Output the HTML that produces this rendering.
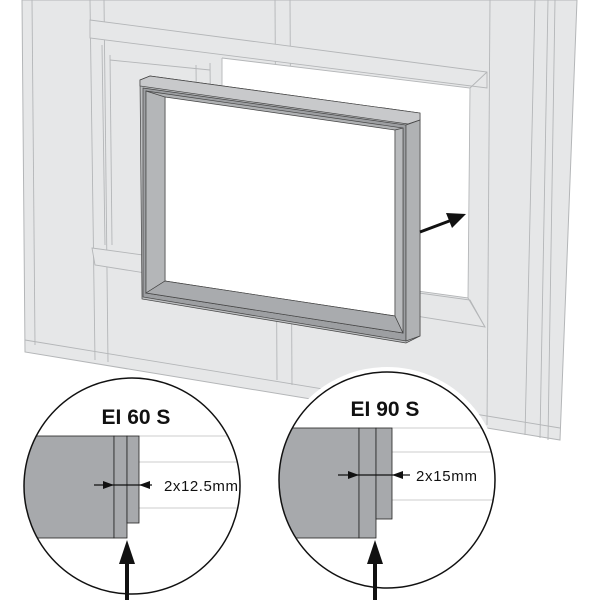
<!DOCTYPE html>
<html><head><style>html,body{margin:0;padding:0;background:#fff}svg{display:block}</style></head>
<body>
<svg width="600" height="600" viewBox="0 0 600 600" xmlns="http://www.w3.org/2000/svg">
<!-- wall -->
<polygon points="22,0 577,0 560,440 25,352" fill="#e6e7e8" stroke="#b4b6b8" stroke-width="1"/>
<g stroke="#b4b6b8" stroke-width="0.9" fill="none">
<line x1="32" y1="0" x2="35" y2="345"/>
<line x1="90" y1="0" x2="95" y2="360"/>
<line x1="104" y1="0" x2="108" y2="362"/>
<line x1="275" y1="0" x2="277" y2="380"/>
<line x1="290" y1="0" x2="292" y2="385"/>
<line x1="490" y1="0" x2="487" y2="425"/>
<line x1="535" y1="0" x2="525" y2="435"/>
<line x1="548" y1="0" x2="540" y2="438"/>
<line x1="555" y1="0" x2="548" y2="440"/>
<line x1="25" y1="340" x2="560" y2="428"/>
<polygon points="90,20 487,72 487,88 90,38" fill="#e6e7e8"/>
<polygon points="92,248 470,300 485,327 95,265" fill="#e6e7e8"/>
<line x1="102" y1="45" x2="105" y2="245"/>
<line x1="110" y1="55" x2="112" y2="245"/>
<line x1="110" y1="60" x2="210" y2="70"/>
<line x1="196" y1="65" x2="198" y2="258"/>
<line x1="210" y1="63" x2="212" y2="260"/>
</g>
<!-- opening -->
<polygon points="222,58 470,88 468,298 222,264" fill="#fff"/>
<g stroke="#b4b6b8" stroke-width="0.9" fill="none">
<polyline points="222,58 470,88 468,298 222,264"/>
<line x1="470" y1="88" x2="487" y2="72"/>
<line x1="468" y1="298" x2="485" y2="327"/>
<line x1="222" y1="58" x2="222" y2="264"/>
</g>
<!-- frame -->
<g stroke="#444" stroke-width="0.7">
<polygon points="140,80 150,76 420,113 420,336 406,343 142,299" fill="#bcbec0"/>
<polygon points="140,80 150,76 420,113 420,120 408,124 140,86" fill="#c8c9cb"/>
<polygon points="143,88 406,125 406,341 143,297" fill="#9d9fa2"/>
<polygon points="146,91 403,128 403,333 146,293" fill="#b0b2b4"/>
<polygon points="165,97 395,130 395,316 165,281" fill="#fff"/>
<polygon points="146,91 165,97 165,281 146,293" fill="#b4b6b8"/>
<polygon points="146,293 165,281 395,316 403,333" fill="#a9abae"/>
<polygon points="395,130 403,128 403,333 395,316" fill="#b9bbbd"/>
<polygon points="406,125 420,120 420,336 406,341" fill="#b0b2b4"/>
</g>
<!-- arrow -->
<line x1="420" y1="232" x2="452" y2="220" stroke="#111" stroke-width="3"/>
<polygon points="466,214 446,213 452,228" fill="#111"/>
<!-- circles -->
<circle cx="132" cy="486" r="113" fill="#fff"/>
<circle cx="387" cy="480" r="113" fill="#fff"/>
<clipPath id="c1"><circle cx="132" cy="486" r="108"/></clipPath>
<clipPath id="c2"><circle cx="387" cy="480" r="108"/></clipPath>
<g clip-path="url(#c1)">
<g stroke="#ccc" stroke-width="1"><line x1="139" y1="436" x2="240" y2="436"/><line x1="139" y1="462" x2="240" y2="462"/><line x1="139" y1="508" x2="240" y2="508"/></g>
<g stroke="#222" stroke-width="0.8">
<rect x="20" y="436" width="94" height="102" fill="#a7a9ac"/>
<rect x="114" y="436" width="13" height="102" fill="#a7a9ac"/>
<rect x="127" y="436" width="12" height="87" fill="#a7a9ac"/>
</g>
</g>
<g clip-path="url(#c2)">
<g stroke="#ccc" stroke-width="1"><line x1="392" y1="428" x2="500" y2="428"/><line x1="392" y1="452" x2="500" y2="452"/><line x1="392" y1="500" x2="500" y2="500"/></g>
<g stroke="#222" stroke-width="0.8">
<rect x="275" y="428" width="84" height="110" fill="#a7a9ac"/>
<rect x="359" y="428" width="17" height="110" fill="#a7a9ac"/>
<rect x="376" y="428" width="16" height="91" fill="#a7a9ac"/>
</g>
</g>
<circle cx="132" cy="486" r="108" fill="none" stroke="#111" stroke-width="1.5"/>
<circle cx="387" cy="480" r="108" fill="none" stroke="#111" stroke-width="1.5"/>
<!-- dims -->
<g stroke="#111" stroke-width="1.2">
<line x1="94" y1="485" x2="152" y2="485"/>
<line x1="338" y1="475" x2="410" y2="475"/>
</g>
<g fill="#111">
<polygon points="114,485 103,481 103,489"/>
<polygon points="139,485 150,481 150,489"/>
<polygon points="359,475 348,471 348,479"/>
<polygon points="392,475 403,471 403,479"/>
<rect x="125" y="560" width="4" height="40"/>
<polygon points="127,540 119,564 135,564"/>
<rect x="373" y="560" width="4" height="40"/>
<polygon points="375,540 367,564 383,564"/>
</g>
<g font-family="Liberation Sans, sans-serif" fill="#111">
<text x="164" y="491" font-size="15" textLength="74">2x12.5mm</text>
<text x="416" y="481" font-size="15" textLength="61">2x15mm</text>
<text x="136" y="424" font-size="21" font-weight="bold" text-anchor="middle">EI 60 S</text>
<text x="385" y="416" font-size="21" font-weight="bold" text-anchor="middle">EI 90 S</text>
</g>
</svg>
</body></html>
